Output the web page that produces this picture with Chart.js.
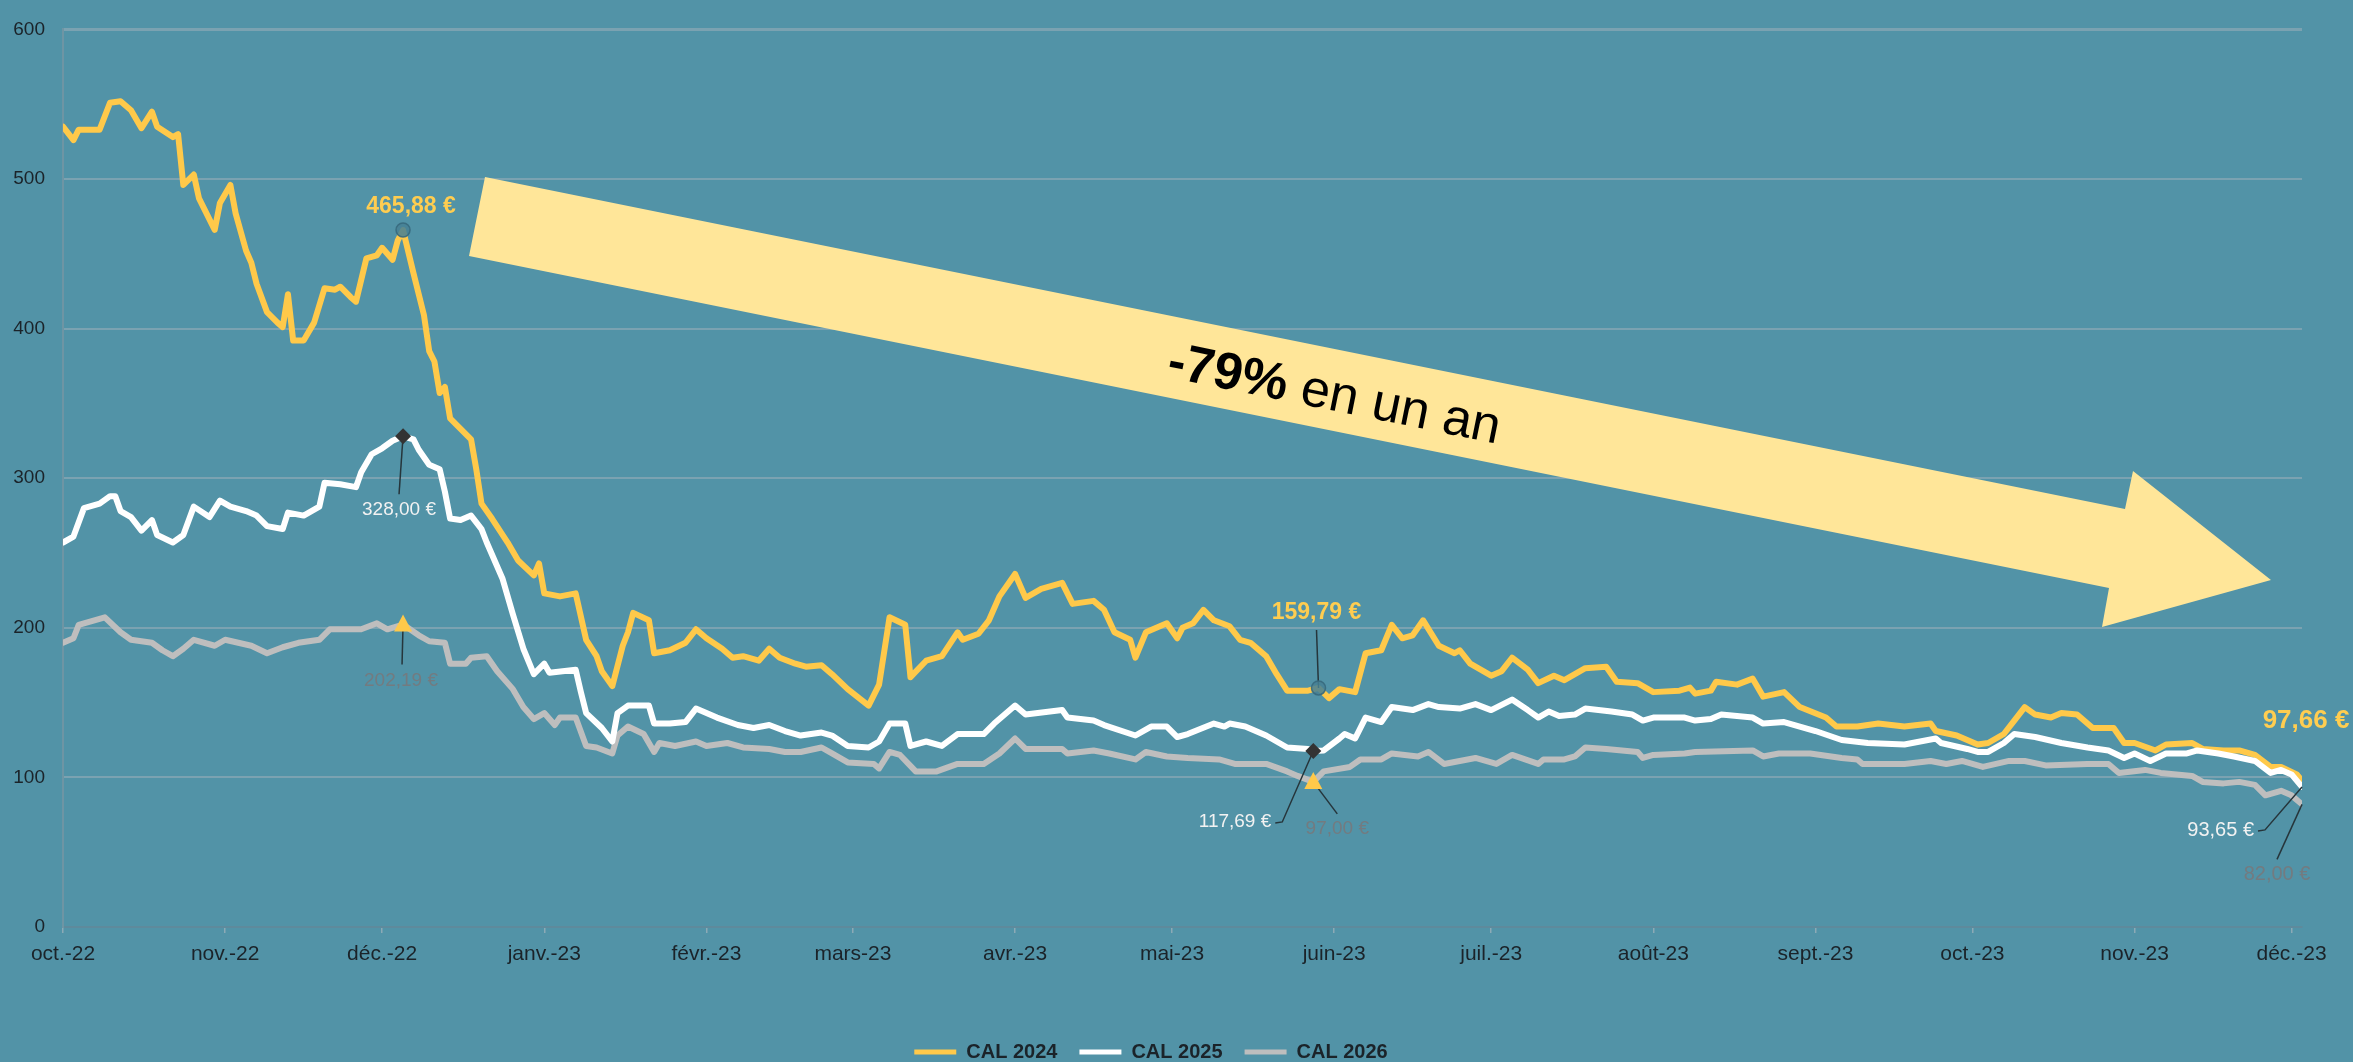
<!DOCTYPE html>
<html>
<head>
<meta charset="utf-8">
<script src="https://cdn.jsdelivr.net/npm/chart.js@4.4.1/dist/chart.umd.min.js"></script>
<style>
  html, body { margin: 0; padding: 0; background: #5293A7; }
  #wrap { width: 2353px; height: 1062px; }
</style>
</head>
<body>
<div id="wrap"><canvas id="chart" width="2353" height="1062"></canvas></div>
<script>
// ------------------- DATA -------------------
// x = days since 1 Oct 2022
const monthDays = [0, 31, 61, 92, 123, 151, 182, 212, 243, 273, 304, 335, 365, 396, 426];
const monthLabels = ["oct.-22", "nov.-22", "déc.-22", "janv.-23", "févr.-23", "mars-23", "avr.-23",
  "mai-23", "juin-23", "juil.-23", "août-23", "sept.-23", "oct.-23", "nov.-23", "déc.-23"];
const yTicks = [0, 100, 200, 300, 400, 500, 600];
const seriesNames = ["CAL 2024", "CAL 2025", "CAL 2026"];

const days2024 = [
  0, 2, 3, 7, 9, 11, 13, 15, 17, 18,
  21, 22, 23, 25, 26, 29, 30, 32, 33, 35,
  36, 37, 39, 41, 42, 43, 44, 46, 48, 50,
  52, 53, 55, 56, 58, 60, 61, 63, 64, 65,
  67, 69, 70, 71, 72, 73, 74, 76, 78, 79,
  80, 82, 85, 87, 90, 91, 92, 95, 98, 100,
  102, 103, 105, 107, 108, 109, 112, 113, 116, 119,
  121, 123, 126, 128, 130, 133, 135, 137, 140, 142,
  145, 147, 150, 154, 156, 158, 161, 162, 165, 168,
  171, 172, 175, 177, 179, 182, 184, 187, 191, 193,
  197, 199, 201, 204, 205, 207, 211, 213, 214, 216,
  218, 220, 223, 225, 227, 230, 232, 234, 238, 240,
  242, 244, 247, 249, 252, 254, 256, 258, 260, 263,
  266, 267, 269, 273, 275, 277, 280, 282, 285, 287,
  291, 295, 297, 301, 304, 309, 311, 312, 315, 316,
  320, 323, 325, 329, 332, 337, 339, 343, 347, 352,
  357, 358, 362, 366, 368, 371, 373, 375, 377, 380,
  382, 385, 388, 392, 394, 396, 400, 402, 407, 409,
  413, 416, 419, 422, 424, 427, 428];
const cal2024 = [
  535, 526, 533, 533, 551, 552, 546, 534, 545, 535,
  528, 530, 496, 503, 487, 466, 484, 496, 477, 452,
  444, 430, 411, 404, 401, 423, 392, 392, 404, 427,
  426, 428, 421, 418, 447, 449, 454, 446, 459, 465.88,
  437, 409, 385, 378, 357, 361, 340, 333, 326, 306,
  283, 273, 257, 245, 235, 243, 223, 221, 223, 192,
  181, 171, 161, 188, 197, 210, 205, 183, 185, 190,
  199, 193, 186, 180, 181, 178, 186, 180, 176, 174,
  175, 169, 159, 148, 162, 207, 202, 167, 178, 181,
  197, 192, 196, 205, 221, 236, 220, 226, 230, 216,
  218, 212, 197, 192, 180, 197, 203, 193, 200, 203,
  212, 205, 201, 192, 190, 181, 169, 158, 158, 159.79,
  153, 159, 157, 183, 185, 202, 193, 195, 205, 188,
  183, 185, 176, 168, 171, 180, 172, 163, 168, 165,
  173, 174, 164, 163, 157, 158, 160, 156, 158, 164,
  162, 166, 154, 157, 147, 140, 134, 134, 136, 134,
  136, 131, 128, 122, 123, 129, 138, 147, 142, 140,
  143, 142, 133, 133, 123, 123, 118, 122, 123, 119,
  118, 118, 115, 107, 107, 102, 97.66];

const days2025 = [
  0, 2, 4, 7, 9, 10, 11, 13, 15, 17,
  18, 21, 23, 25, 28, 30, 32, 35, 37, 39,
  42, 43, 46, 49, 50, 53, 56, 57, 59, 61,
  63, 65, 67, 68, 70, 72, 73, 74, 76, 78,
  80, 81, 84, 86, 88, 90, 92, 93, 98, 99,
  100, 103, 105, 106, 108, 112, 113, 116, 119, 121,
  125, 129, 132, 135, 138, 141, 145, 147, 150, 154,
  156, 158, 161, 162, 165, 168, 171, 176, 178, 182,
  184, 191, 192, 197, 199, 205, 208, 211, 213, 215,
  220, 222, 223, 226, 230, 234, 238, 239, 241, 244,
  245, 247, 249, 252, 254, 258, 261, 263, 267, 270,
  273, 277, 280, 282, 284, 286, 289, 291, 296, 300,
  302, 304, 310, 312, 315, 317, 323, 325, 329, 335,
  340, 345, 352, 358, 359, 364, 366, 368, 371, 373,
  377, 382, 387, 391, 394, 396, 399, 402, 406, 408,
  412, 415, 419, 422, 424, 426, 428];
const cal2025 = [
  257, 261, 280, 283, 288, 288, 278, 274, 265, 272,
  262, 257, 262, 281, 274, 285, 281, 278, 275, 268,
  266, 277, 275, 281, 297, 296, 294, 304, 316, 320,
  325, 328, 326, 319, 309, 306, 291, 273, 272, 275,
  266, 257, 233, 209, 186, 169, 176, 170, 172, 157,
  143, 133, 124, 143, 148, 148, 136, 136, 137, 146,
  140, 135, 133, 135, 131, 128, 130, 128, 121, 120,
  124, 136, 136, 121, 124, 121, 129, 129, 136, 148,
  142, 145, 140, 138, 135, 128, 134, 134, 127, 129,
  136, 134, 136, 134, 128, 120, 119, 117.69, 118, 126,
  129, 126, 140, 137, 147, 145, 149, 147, 146, 149,
  145, 152, 145, 140, 144, 141, 142, 146, 144, 142,
  138, 140, 140, 138, 139, 142, 140, 136, 137, 131,
  125, 123, 122, 126, 123, 119, 117, 117, 123, 129,
  127, 123, 120, 118, 113, 116, 111, 116, 116, 118,
  116, 114, 111, 103, 105, 102, 93.65];

const days2026 = [
  0, 2, 3, 5, 8, 11, 13, 17, 19, 21,
  23, 25, 29, 31, 36, 39, 42, 45, 49, 51,
  57, 60, 62, 65, 68, 70, 73, 74, 77, 78,
  81, 83, 86, 88, 90, 92, 94, 95, 98, 100,
  102, 105, 106, 108, 111, 113, 114, 117, 121, 123,
  127, 130, 135, 138, 141, 145, 147, 150, 155, 156,
  158, 160, 163, 167, 171, 176, 179, 182, 184, 191,
  192, 197, 200, 205, 207, 211, 215, 221, 224, 230,
  234, 236, 239, 241, 246, 248, 252, 254, 259, 261,
  264, 270, 274, 277, 282, 283, 287, 289, 291, 295,
  301, 302, 304, 310, 312, 323, 325, 328, 334, 340,
  343, 344, 352, 357, 360, 363, 367, 372, 375, 379,
  387, 391, 393, 398, 401, 407, 409, 413, 416, 419,
  421, 424, 426, 428];
const cal2026 = [
  190, 193, 202, 204, 207, 197, 192, 190, 185, 181,
  186, 192, 188, 192, 188, 183, 187, 190, 192, 199,
  199, 203, 199, 202.19, 195, 191, 190, 176, 176, 180,
  181, 171, 159, 147, 139, 143, 135, 140, 140, 121,
  120, 116, 128, 134, 129, 117, 123, 121, 124, 121,
  123, 120, 119, 117, 117, 120, 116, 110, 109, 106,
  117, 115, 104, 104, 109, 109, 116, 126, 119, 119,
  116, 118, 116, 112, 117, 114, 113, 112, 109, 109,
  104, 101, 97, 104, 107, 112, 112, 116, 114, 117,
  109, 113, 109, 115, 109, 112, 112, 114, 120, 119,
  117, 113, 115, 116, 117, 118, 114, 116, 116, 113,
  112, 109, 109, 111, 109, 111, 107, 111, 111, 108,
  109, 109, 103, 105, 103, 101, 97, 96, 97, 95,
  88, 91, 88, 82];

// ------------------- STYLE -------------------
const FONT = "'Liberation Sans', Arial, sans-serif";
const BG = "#5293A7";
const YELLOW = "#FFC94A";
const YELLOW_TXT = "#FFCD50";
const WHITE = "#FFFFFF";
const GREY = "#BEBEBE";
const GREY_TXT = "#737B80";
const INK = "#1B2329";

// labelled points: which series, which day, marker, leader line and label offsets (px)
const notes = [
  { ds: 0, day: 65, mark: "ring", text: "465,88 €", color: YELLOW_TXT, font: "bold 23px", lx: 8, ly: -23, align: "center" },
  { ds: 1, day: 65, mark: "diamond", lead: [[-4, 58]], text: "328,00 €", color: "#F2F2F2", font: "19px", lx: -4, ly: 73, align: "center" },
  { ds: 2, day: 65, mark: "triangle", lead: [[-1, 40]], text: "202,19 €", color: GREY_TXT, font: "19px", lx: -2, ly: 56, align: "center" },
  { ds: 0, day: 240, mark: "ring", lead: [[-2, -58]], text: "159,79 €", color: YELLOW_TXT, font: "bold 23px", lx: -2, ly: -75, align: "center" },
  { ds: 1, day: 239, mark: "diamond", lead: [[-31, 71], [-38, 72]], text: "117,69 €", color: "#F2F2F2", font: "19px", lx: -42, ly: 71, align: "right" },
  { ds: 2, day: 239, mark: "triangle", lead: [[24, 32]], text: "97,00 €", color: GREY_TXT, font: "19px", lx: 24, ly: 47, align: "center" },
  { ds: 0, day: 428, text: "97,66 €", color: YELLOW_TXT, font: "bold 26px", lx: 4, ly: -60, align: "center" },
  { ds: 1, day: 428, lead: [[-37, 43], [-44, 44]], text: "93,65 €", color: "#F2F2F2", font: "20px", lx: -48, ly: 44, align: "right" },
  { ds: 2, day: 428, lead: [[-25, 55]], text: "82,00 €", color: GREY_TXT, font: "20px", lx: -25, ly: 70, align: "center" }
];

// ------------------- PLUGINS -------------------
const bgPlugin = {
  id: "bg",
  beforeDraw(chart) {
    const c = chart.ctx;
    c.save();
    c.fillStyle = BG;
    c.fillRect(0, 0, chart.width, chart.height);
    c.restore();
  }
};

// big yellow "-79% en un an" arrow
const arrowPlugin = {
  id: "arrow",
  beforeDatasetsDraw(chart) {
    const c = chart.ctx;
    const pts = [[485, 177], [2125, 509], [2133, 471], [2271, 580], [2102, 627], [2109, 588], [469, 256]];
    c.save();
    c.fillStyle = "#FFE699";
    c.beginPath();
    pts.forEach((p, i) => i ? c.lineTo(p[0], p[1]) : c.moveTo(p[0], p[1]));
    c.closePath();
    c.fill();

    c.translate(1334, 396);
    c.rotate(Math.atan2(332, 1640));
    c.fillStyle = "#000";
    c.textBaseline = "middle";
    c.textAlign = "left";
    const bold = "bold 52px " + FONT, reg = "52px " + FONT;
    c.font = bold;
    const w1 = c.measureText("-79%").width;
    c.font = reg;
    const w2 = c.measureText(" en un an").width;
    const x0 = -(w1 + w2) / 2;
    c.font = bold;
    c.fillText("-79%", x0, 0);
    c.font = reg;
    c.fillText(" en un an", x0 + w1, 0);
    c.restore();
  }
};

const notesPlugin = {
  id: "notes",
  afterDatasetsDraw(chart) {
    const c = chart.ctx;
    notes.forEach(n => {
      const data = chart.data.datasets[n.ds].data;
      const idx = data.findIndex(p => p.x === n.day);
      const pt = chart.getDatasetMeta(n.ds).data[idx];
      if (!pt) return;
      const x = pt.x, y = pt.y;
      c.save();
      if (n.lead) {
        c.strokeStyle = "#26353B";
        c.lineWidth = 1.5;
        c.beginPath();
        c.moveTo(x, y);
        n.lead.forEach(p => c.lineTo(x + p[0], y + p[1]));
        c.stroke();
      }
      if (n.mark === "diamond") {
        c.fillStyle = "#333333";
        c.beginPath();
        c.moveTo(x, y - 8); c.lineTo(x + 8, y); c.lineTo(x, y + 8); c.lineTo(x - 8, y);
        c.closePath();
        c.fill();
      } else if (n.mark === "triangle") {
        c.fillStyle = YELLOW;
        c.beginPath();
        c.moveTo(x, y - 10); c.lineTo(x + 9, y + 7); c.lineTo(x - 9, y + 7);
        c.closePath();
        c.fill();
      } else if (n.mark === "ring") {
        c.fillStyle = "rgba(70,128,148,0.85)";
        c.strokeStyle = "rgba(55,105,125,0.9)";
        c.lineWidth = 1.5;
        c.beginPath();
        c.arc(x, y, 7, 0, Math.PI * 2);
        c.fill();
        c.stroke();
      }
      c.font = n.font + " " + FONT;
      c.fillStyle = n.color;
      c.textAlign = n.align;
      c.textBaseline = "middle";
      c.fillText(n.text, x + n.lx, y + n.ly);
      c.restore();
    });
  }
};

// ------------------- CHART -------------------
Chart.defaults.font.family = FONT;

const toPoints = (days, vals) => days.map((d, i) => ({ x: d, y: vals[i] }));

new Chart(document.getElementById("chart"), {
  type: "line",
  data: {
    datasets: [
      { label: seriesNames[0], data: toPoints(days2024, cal2024), borderColor: YELLOW, backgroundColor: YELLOW, order: 2 },
      { label: seriesNames[1], data: toPoints(days2025, cal2025), borderColor: WHITE, backgroundColor: WHITE, order: 0 },
      { label: seriesNames[2], data: toPoints(days2026, cal2026), borderColor: GREY, backgroundColor: GREY, order: 1 }
    ]
  },
  options: {
    responsive: false,
    animation: false,
    devicePixelRatio: 1,
    layout: { padding: { top: 19, right: 51, bottom: -10, left: 0 } },
    elements: {
      line: { borderWidth: 6, tension: 0, borderJoinStyle: "round", borderCapStyle: "round" },
      point: { radius: 0, hoverRadius: 0 }
    },
    scales: {
      x: {
        type: "linear",
        min: 0,
        max: 428,
        afterBuildTicks: scale => { scale.ticks = monthDays.map(v => ({ value: v })); },
        afterFit: scale => { scale.height = 93; },
        ticks: {
          autoSkip: false,
          maxRotation: 0,
          padding: 9,
          color: INK,
          font: { size: 21 },
          callback: v => monthLabels[monthDays.indexOf(v)]
        },
        grid: { drawOnChartArea: false, drawTicks: true, tickLength: 6, color: "#8CAAB6", lineWidth: 1.5 },
        border: { display: true, color: "#5E8A9C", width: 2 }
      },
      y: {
        min: 0,
        max: 600,
        afterBuildTicks: scale => { scale.ticks = yTicks.map(v => ({ value: v })); },
        afterFit: scale => { scale.width = 63; },
        ticks: { padding: 18, color: INK, font: { size: 19 } },
        grid: {
          drawTicks: false,
          color: "#7BA2B1",
          lineWidth: ctx => (ctx.tick && ctx.tick.value === 600 ? 3 : 2)
        },
        border: { display: true, color: "#6E95A4", width: 2 }
      }
    },
    plugins: {
      legend: {
        position: "bottom",
        labels: {
          color: INK,
          font: { size: 20, weight: "bold" },
          boxWidth: 42,
          boxHeight: 5,
          padding: 22,
          sort: (a, b) => a.datasetIndex - b.datasetIndex,
          generateLabels: chart => {
            const items = Chart.defaults.plugins.legend.labels.generateLabels(chart);
            items.forEach(it => { it.lineWidth = 0; it.fillStyle = it.strokeStyle; });
            return items;
          }
        }
      },
      tooltip: { enabled: false }
    }
  },
  plugins: [bgPlugin, arrowPlugin, notesPlugin]
});
</script>
</body>
</html>
